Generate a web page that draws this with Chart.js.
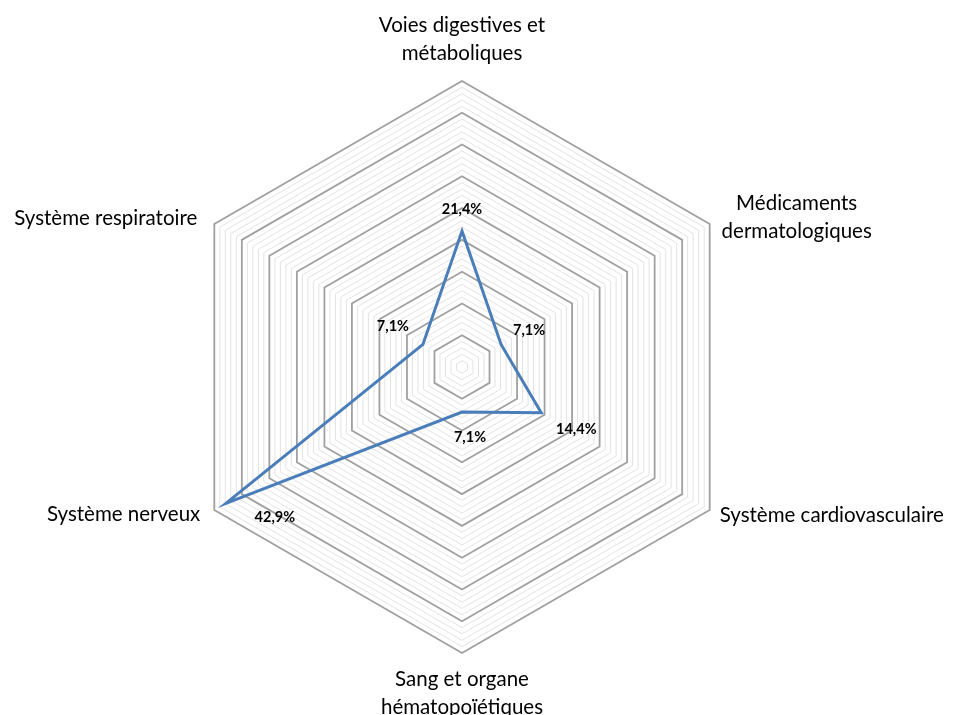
<!DOCTYPE html>
<html>
<head>
<meta charset="utf-8">
<script src="https://cdn.jsdelivr.net/npm/chart.js@4"></script>
<style>
html,body{margin:0;padding:0;background:#fff;}
#wrap{width:954px;height:715px;position:relative;}
</style>
</head>
<body>
<div id="wrap"><canvas id="c" width="954" height="715"></canvas></div>
<script>
const categories = [
  ["Voies digestives et", "métaboliques"],
  ["Médicaments", "dermatologiques"],
  ["Système cardiovasculaire"],
  ["Sang et organe", "hématopoïétiques"],
  ["Système nerveux"],
  ["Système respiratoire"]
];
const values = [21.4, 7.1, 14.4, 7.1, 42.9, 7.1];
const valueLabels = ["21,4%", "7,1%", "14,4%", "7,1%", "42,9%", "7,1%"];
const scaleMax = 45;

// label placement styles (offsets in px)
const catStyle = [
  {dx: 0, dy: -14, align: "center", base: "bottom"},
  {dx: 87, dy: -7, align: "center", base: "middle"},
  {dx: 10, dy: 5, align: "left", base: "middle"},
  {dx: 0, dy: 12, align: "center", base: "top"},
  {dx: -14, dy: 4, align: "right", base: "middle"},
  {dx: -17, dy: -6, align: "right", base: "middle"}
];
const valStyle = [
  {dx: 0, dy: -22},
  {dx: 28, dy: -14},
  {dx: 35, dy: 17},
  {dx: 8, dy: 25},
  {dx: 49, dy: 14},
  {dx: -30, dy: -18}
];

const labelPlugin = {
  id: "customLabels",
  afterDatasetsDraw(chart) {
    const ctx = chart.ctx;
    const r = chart.scales.r;
    ctx.save();
    // category labels
    ctx.fillStyle = "#000";
    ctx.font = "20.5px Lato, 'Open Sans', sans-serif";
    categories.forEach((lines, i) => {
      const p = r.getPointPosition(i, r.drawingArea);
      const s = catStyle[i];
      ctx.textAlign = s.align;
      ctx.textBaseline = "middle";
      const lh = 28;
      const n = lines.length;
      let y0;
      if (s.base === "bottom") y0 = p.y + s.dy - (n - 1) * lh - lh / 2;
      else if (s.base === "top") y0 = p.y + s.dy + lh / 2;
      else y0 = p.y + s.dy - (n - 1) * lh / 2;
      lines.forEach((t, k) => ctx.fillText(t, p.x + s.dx, y0 + k * lh));
    });
    // value labels
    ctx.font = "bold 14.5px Lato, 'Open Sans', sans-serif";
    ctx.textAlign = "center";
    ctx.textBaseline = "middle";
    values.forEach((v, i) => {
      const p = r.getPointPositionForValue(i, v);
      const s = valStyle[i];
      ctx.fillText(valueLabels[i], p.x + s.dx, p.y + s.dy);
    });
    ctx.restore();
  }
};

new Chart(document.getElementById("c"), {
  type: "radar",
  data: {
    labels: categories,
    datasets: [{
      data: values,
      borderColor: "#4a7ebb",
      borderWidth: 3,
      backgroundColor: "rgba(0,0,0,0)",
      fill: false,
      pointRadius: 0,
      pointHoverRadius: 0,
      tension: 0
    }]
  },
  options: {
    responsive: false,
    animation: false,
    devicePixelRatio: 1,
    layout: {padding: {top: 81, bottom: 62, left: 0, right: 30}},
    plugins: {legend: {display: false}, tooltip: {enabled: false}},
    scales: {
      r: {
        min: 0,
        max: scaleMax,
        ticks: {display: false, stepSize: 1},
        pointLabels: {display: false},
        angleLines: {display: false},
        grid: {
          color: (c) => (c.tick && c.tick.value % 5 === 0) ? "#a0a0a0" : "#e3e3e3",
          lineWidth: (c) => (c.tick && c.tick.value % 5 === 0) ? 1.8 : 1
        }
      }
    }
  },
  plugins: [labelPlugin]
});
</script>
</body>
</html>
